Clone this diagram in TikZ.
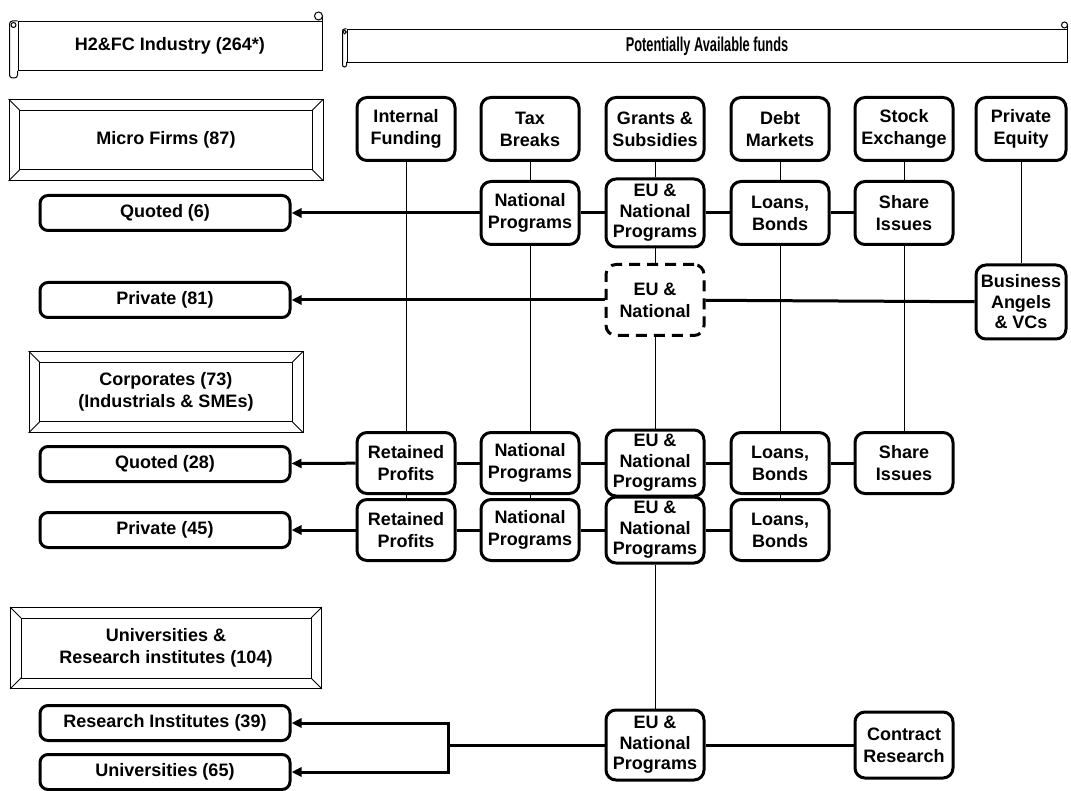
\documentclass[tikz,border=0pt]{standalone}
\usepackage{fontspec}
\setmainfont{Liberation Sans}
\newfontfamily\narrowfont[FakeStretch=0.64]{Liberation Sans Bold}
\usetikzlibrary{arrows.meta}

% inner frame of a bevelled box
\newcommand{\bevel}[1]{%
  \draw[line width=0.8pt] ([shift={(11,11)}]#1.north west) rectangle ([shift={(-11,-11)}]#1.south east);
  \draw[line width=0.8pt] (#1.north west) -- ++(11,11);
  \draw[line width=0.8pt] (#1.north east) -- ++(-11,11);
  \draw[line width=0.8pt] (#1.south west) -- ++(11,-11);
  \draw[line width=0.8pt] (#1.south east) -- ++(-11,-11);
}

\begin{document}
\begin{tikzpicture}[x=1pt, y=-1pt,
      every node/.style = {font=\fontsize{18}{22}\selectfont\bfseries, align=center},
      fund/.style = {draw, line width=3pt, rounded corners=10pt, minimum width=98pt, minimum height=63pt, inner sep=1pt},
      three/.style = {fund, font=\fontsize{18}{20.5}\selectfont\bfseries, minimum height=66pt},
      owner/.style = {draw, line width=3pt, rounded corners=8pt, minimum width=250pt, minimum height=35pt, inner sep=1pt},
      sector/.style = {draw, line width=0.8pt, minimum height=81pt, inner sep=1pt},
      scrollbody/.style = {draw, line width=1pt, inner sep=1pt},
      feed/.style = {line width=0.8pt},
      link/.style = {line width=3pt},
      to/.style = {link, -{Triangle[length=10pt,width=9pt]}}]
    \useasboundingbox (0,0) rectangle (1071,791);

    % header scrolls
    \node[scrollbody, minimum width=304pt, minimum height=49pt] (ind) at (170,46) {H2\&FC Industry (264*)};
    \draw[line width=1pt, rounded corners=3pt] (ind.north west) -- ++(-8,0) -- ++(0,57) -- ++(8,0) -- ++(0,-7);
    \draw[line width=1pt] ([shift={(-4,4)}]ind.north west) circle[radius=2.5pt];
    \draw[line width=1pt, fill=white] ([shift={(-4,-5)}]ind.north east) circle[radius=4pt];
    \draw[line width=1pt] ([shift={(0,-5)}]ind.north east) -- (ind.east);

    \node[scrollbody, minimum width=720pt, minimum height=33pt, font=\narrowfont\fontsize{20}{22}\selectfont] (funds) at (707,46) {Potentially Available funds};
    \draw[line width=1pt, rounded corners=2pt] (funds.north west) -- ++(-4,0) -- ++(0,38) -- ++(4,0) -- ++(0,-5);
    \draw[line width=1pt] ([shift={(-2,3)}]funds.north west) circle[radius=1.8pt];
    \draw[line width=1pt, fill=white] ([shift={(-3,-4)}]funds.north east) circle[radius=3pt];
    \draw[line width=1pt] ([shift={(0,-4)}]funds.north east) -- (funds.east);

    % sectors
    \node[sector, minimum width=314pt] (micro) at (166,140) {Micro Firms (87)};
    \bevel{micro}
    \node[sector, minimum width=274pt] (corp) at (166,392) {Corporates (73)\\(Industrials \& SMEs)};
    \bevel{corp}
    \node[sector, minimum width=311pt] (univ) at (166,648) {Universities \&\\Research institutes (104)};
    \bevel{univ}

    % owners
    \node[owner] (q6)  at (165,213) {Quoted (6)};
    \node[owner] (p81) at (165,300) {Private (81)};
    \node[owner] (q28) at (165,464) {Quoted (28)};
    \node[owner] (p45) at (165,530) {Private (45)};
    \node[owner] (ri)  at (165,723) {Research Institutes (39)};
    \node[owner] (uni) at (165,772) {Universities (65)};

    % sources of funds
    \node[fund] (if) at (406,129) {Internal\\Funding};
    \node[fund] (tb) at (530,129) {Tax\\Breaks};
    \node[fund] (gs) at (655,129) {Grants \&\\Subsidies};
    \node[fund] (dm) at (780,129) {Debt\\Markets};
    \node[fund] (se) at (904,129) {Stock\\Exchange};
    \node[fund, minimum width=90pt] (pe) at (1021,129) {Private\\Equity};

    % micro firms, quoted
    \node[fund] (np2) at (530,213) {National\\Programs};
    \node[three, minimum height=68pt] (eu2) at (655,213) {EU \&\\National\\Programs};
    \node[fund] (lb2) at (780,213) {Loans,\\Bonds};
    \node[fund] (si2) at (904,213) {Share\\Issues};

    % micro firms, private
    \node[fund, dashed, dash pattern=on 11pt off 7pt, minimum height=71pt] (eu3) at (655,300) {EU \&\\National};
    \node[three, minimum width=90pt, minimum height=74pt] (ba) at (1021,302) {Business\\Angels\\\& VCs};

    % corporates, quoted
    \node[fund, minimum height=61pt] (rp4) at (406,463) {Retained\\Profits};
    \node[fund, minimum height=61pt] (np4) at (530,463) {National\\Programs};
    \node[three] (eu4) at (655,463) {EU \&\\National\\Programs};
    \node[fund, minimum height=61pt] (lb4) at (780,463) {Loans,\\Bonds};
    \node[fund, minimum height=61pt] (si4) at (904,463) {Share\\Issues};

    % corporates, private
    \node[fund, minimum height=61pt] (rp5) at (406,530) {Retained\\Profits};
    \node[fund, minimum height=61pt] (np5) at (530,530) {National\\Programs};
    \node[three] (eu5) at (655,530) {EU \&\\National\\Programs};
    \node[fund, minimum height=61pt] (lb5) at (780,530) {Loans,\\Bonds};

    % research
    \node[three, minimum height=70pt] (eu6) at (655,745) {EU \&\\National\\Programs};
    \node[fund, minimum height=66pt] (cr)  at (904,745) {Contract\\Research};
    \coordinate (split) at (448,745);

    % vertical feeds
    \draw[feed] (if) -- (rp4) -- (rp5);
    \draw[feed] (tb) -- (np2) -- (np4) -- (np5);
    \draw[feed] (gs) -- (eu2) -- (eu3) -- (eu4) -- (eu5) -- (eu6);
    \draw[feed] (dm) -- (lb2) -- (lb4) -- (lb5);
    \draw[feed] (se) -- (si2) -- (si4);
    \draw[feed] (pe) -- (ba);

    % horizontal links
    \draw[link] (np2) -- (eu2) -- (lb2) -- (si2);
    \draw[link] (eu3) -- (ba);
    \draw[link] (rp4) -- (np4) -- (eu4) -- (lb4) -- (si4);
    \draw[link] (rp5) -- (np5) -- (eu5) -- (lb5);
    \draw[link] (eu6) -- (cr);
    \draw[link] (eu6) -- (split);

    % arrows to owners
    \draw[to] (np2) -- (q6);
    \draw[to] (eu3) -- (p81);
    \draw[to] (rp4) -- (q28);
    \draw[to] (rp5) -- (p45);
    \draw[to] (split) |- (ri);
    \draw[to] (split) |- (uni);

  \end{tikzpicture}
\end{document}
